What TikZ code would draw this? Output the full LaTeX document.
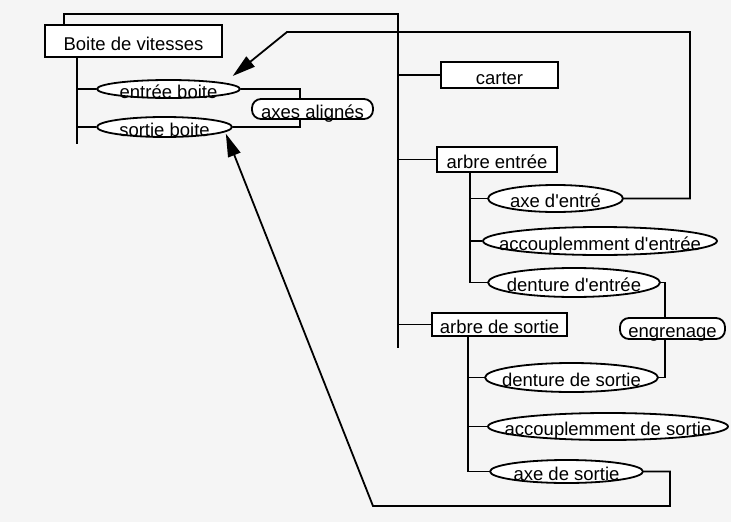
\documentclass[tikz,border=0pt]{standalone}
\usepackage{fontspec}
\setmainfont{Liberation Sans}
\usepackage{tikz}
\usetikzlibrary{shapes.geometric, arrows.meta}

\begin{document}
\begin{tikzpicture}[x=1pt,y=-1pt,
    wire/.style={line width=1.8pt},
    box/.style={draw,line width=1.8pt,fill=white,inner sep=0pt,text height=18pt,text depth=0pt},
    rbox/.style={box,rounded corners=9pt},
    ell/.style={ellipse,draw,line width=1.8pt,fill=white,inner xsep=-40pt,inner ysep=-8pt,
                text height=18pt,text depth=0pt},
    pointe/.style={wire,-{Triangle[length=23pt,width=13pt]}},
    every node/.style={font=\fontsize{18.5}{20}\selectfont}]
    \fill[black!4] (0,0) rectangle (731,522);
    \useasboundingbox (0,0) rectangle (731,522);
    % boite et ses deux cotes
    \node[box,minimum width=177pt,minimum height=32pt] (bv) at (133.5,41) {Boite de vitesses};
    \node[ell,minimum width=143pt,minimum height=18pt] (eb) at (168.5,89) {entrée boite};
    \node[ell,minimum width=135pt,minimum height=20pt] (sb) at (164.5,127) {sortie boite};
    \node[rbox,minimum width=121pt,minimum height=20pt] (aa) at (312.5,109) {axes alignés};
    % composants
    \node[box,minimum width=117pt,minimum height=26pt] (ca) at (499.5,75) {carter};
    \node[box,minimum width=120pt,minimum height=25pt] (ae) at (497,159.5) {arbre entrée};
    \node[ell,minimum width=135pt,minimum height=27pt] (axe) at (555.5,198.5) {axe d\textquotesingle entré};
    \node[ell,minimum width=234pt,minimum height=28pt] (ace) at (600,241) {accouplemment d\textquotesingle entrée};
    \node[ell,minimum width=172pt,minimum height=29pt] (dte) at (574,282.5) {denture d\textquotesingle entrée};
    \node[box,minimum width=135pt,minimum height=23pt] (as) at (499.5,324.5) {arbre de sortie};
    \node[rbox,minimum width=105pt,minimum height=21pt] (eng) at (672.5,328.5) {engrenage};
    \node[ell,minimum width=173pt,minimum height=29pt] (dts) at (571.5,377.5) {denture de sortie};
    \node[ell,minimum width=240pt,minimum height=27pt] (acs) at (608,426.5) {accouplemment de sortie};
    \node[ell,minimum width=153pt,minimum height=23pt] (axs) at (566.5,471.5) {axe de sortie};
    % arborescences
    \coordinate (lk) at ([xshift=33pt]bv.south west);
    \draw[wire] (lk) -- ++(0,86);
    \foreach \n in {eb,sb} \draw[wire] (lk |- \n.west) -- (\n.west);
    \coordinate (tk) at (398,14);
    \draw[wire] ([xshift=20pt]bv.north west) |- (tk) -- ++(0,334);
    \foreach \n in {ca,ae,as} \draw[wire] (tk |- \n.west) -- (\n.west);
    \coordinate (ek) at ([xshift=-27pt]ae.south);
    \draw[wire] (ek) -- (ek |- dte.west);
    \foreach \n in {axe,ace,dte} \draw[wire] (ek |- \n.west) -- (\n.west);
    \coordinate (sk) at ([xshift=-31.5pt]as.south);
    \draw[wire] (sk) -- (sk |- axs.west);
    \foreach \n in {dts,acs,axs} \draw[wire] (sk |- \n.west) -- (\n.west);
    % relations
    \draw[wire] (eb.east) -| ([xshift=-12.5pt]aa.north);
    \draw[wire] ([xshift=-12.5pt]aa.south) |- (sb.east);
    \draw[wire] (dte.east) -| ([xshift=-7.5pt]eng.north);
    \draw[wire] ([xshift=-7.5pt]eng.south) |- (dts.east);
    \coordinate (h1) at (690,32);
    \coordinate (h2) at (287,32);
    \draw[pointe] (axe.east) -| (h1) -- (h2) -- ([shift={(13,-6)}]eb.north east);
    \coordinate (b1) at (670,506);
    \coordinate (b2) at (373,506);
    \draw[pointe] (axs.east) -| (b1) -- (b2) -- ([shift={(13,-1)}]sb.south east);
\end{tikzpicture}
\end{document}
